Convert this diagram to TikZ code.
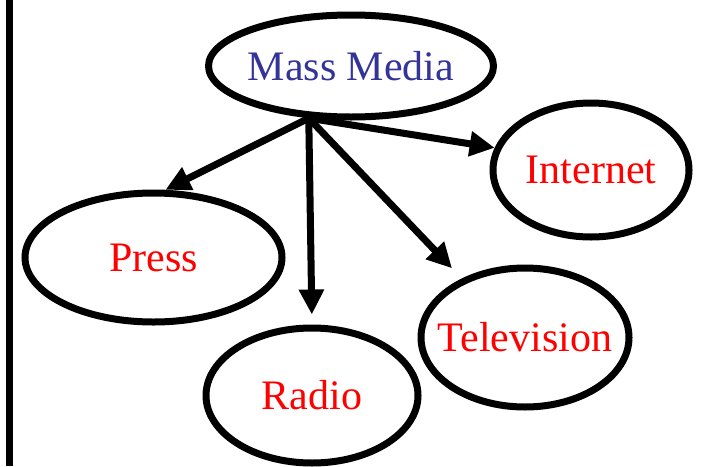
\documentclass[tikz,border=0pt]{standalone}
\usepackage{fontspec}
\setmainfont{Liberation Serif}
\usetikzlibrary{shapes.geometric,arrows.meta}
\definecolor{mediablue}{RGB}{51,51,153}

\begin{document}
\begin{tikzpicture}[x=1pt, y=-1pt,
    medium/.style={draw, ellipse, line width=7pt, inner sep=0pt, text=red, font=\fontsize{42}{42}\selectfont},
    link/.style={line width=7pt, -{Triangle[length=25pt, width=24pt]}}]
  \useasboundingbox (0,0) rectangle (714,466);
  \draw[line width=7pt] (9.5,0) -- (9.5,466);
  \node[medium, text=mediablue, minimum width=285pt, minimum height=102pt] (mm) at (351,66) {\makebox[0pt]{Mass Media}};
  \node[medium, minimum width=196pt, minimum height=134pt] (internet) at (591,170) {\makebox[0pt]{Internet}};
  \node[medium, minimum width=257pt, minimum height=129pt] (press) at (153.5,257.5) {\makebox[0pt]{\raisebox{-3pt}{Press}}};
  \node[medium, minimum width=208pt, minimum height=139pt] (tv) at (525,337.5) {\makebox[0pt]{Television}};
  \node[medium, minimum width=212pt, minimum height=135pt] (radio) at (312,395.5) {\makebox[0pt]{\raisebox{-3pt}{Radio}}};
  % all arrows leave from one point under Mass Media
  \draw[link] (mm.231) -- (press.80);
  \draw[link, shorten >=10pt] (mm.231) -- (radio.north);
  \draw[link, shorten >=14pt] (mm.231) -- (tv.137);
  \draw[link] (mm.231) -- (internet.167);
\end{tikzpicture}
\end{document}
